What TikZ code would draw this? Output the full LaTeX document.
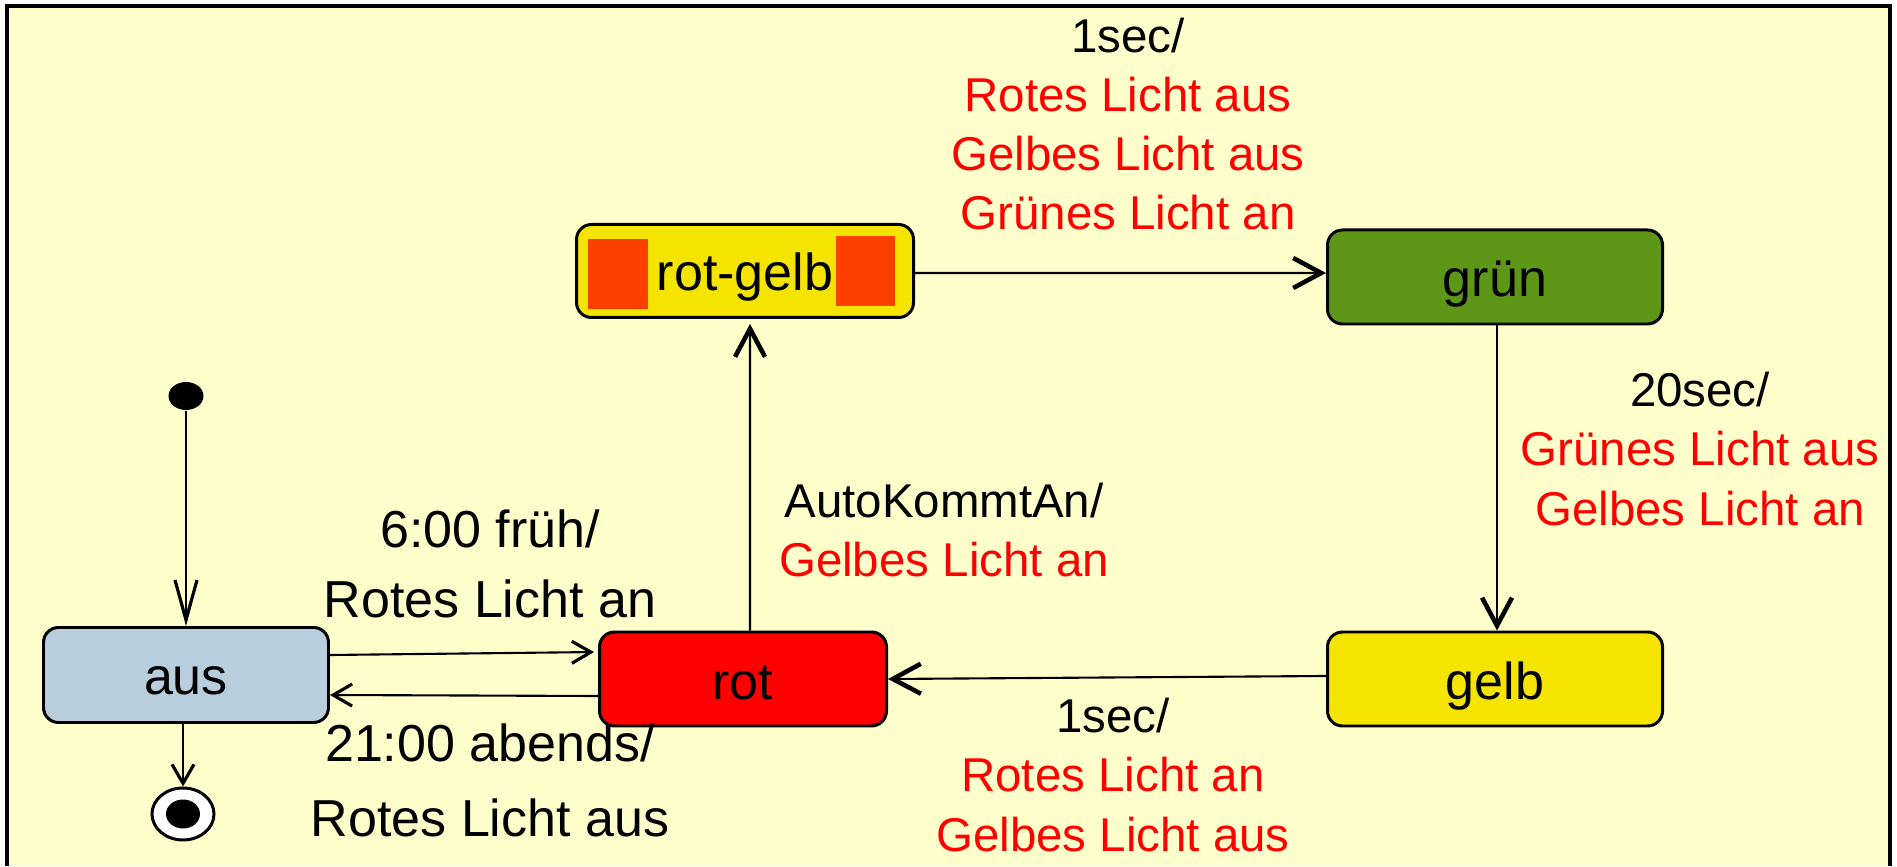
\documentclass[tikz,border=0pt]{standalone}
\usepackage{fontspec}
\setmainfont{Liberation Sans}
\usetikzlibrary{arrows.meta,shapes.geometric}

\definecolor{hgrund}{HTML}{FFFFCC}
\definecolor{ausblau}{HTML}{B8CEDD}
\definecolor{rotfarbe}{HTML}{FF0000}
\definecolor{gelbfarbe}{HTML}{F5E400}
\definecolor{gruenfarbe}{HTML}{5E9618}
\definecolor{orangefarbe}{HTML}{FC4000}

\tikzset{
	zustand/.style={draw, line width=0.85pt, rounded corners=0.15cm, minimum width=2.86cm,
		minimum height=0.94cm, inner sep=0pt, text height=0.40cm, text depth=0pt,
		font=\fontsize{14.8}{17}\selectfont},
	trans/.style={line width=0.6pt},
	grosspfeil/.style={-{Straight Barb[length=0.28cm,width=0.30cm,line width=1.3pt]}},
	kleinpfeil/.style={-{Straight Barb[length=0.19cm,width=0.22cm,line width=0.9pt]}},
	startpfeil/.style={-{Straight Barb[length=0.40cm,width=0.22cm,line width=0.9pt]}},
	lab/.style={align=center, font=\fontsize{13.5}{16.8}\selectfont},
	labgross/.style={align=center, font=\fontsize{14.8}{20}\selectfont},
}

\begin{document}
\begin{tikzpicture}
		\useasboundingbox (0,0) rectangle (18.97,8.66);
		\fill[hgrund] (0.07,0) rectangle (18.90,8.60);
		\draw[line width=1.2pt] (0.07,0)--(0.07,8.60)--(18.90,8.60)--(18.90,0);
		% Zustaende
		\node[zustand, fill=ausblau, minimum width=2.85cm, minimum height=0.95cm] (aus) at (1.86,1.91) {aus};
		\node[zustand, fill=rotfarbe, minimum width=2.87cm] (rot) at (7.43,1.87) {rot};
		\node[zustand, fill=gelbfarbe, minimum width=3.37cm, minimum height=0.93cm] (rotgelb) at (7.45,5.95) {rot-gelb};
		\fill[orangefarbe] (5.88,5.57) rectangle (6.48,6.27);
		\fill[orangefarbe] (8.36,5.60) rectangle (8.95,6.30);
		\node[zustand, fill=gruenfarbe, minimum width=3.35cm] (gruen) at (14.95,5.89) {grün};
		\node[zustand, fill=gelbfarbe, minimum width=3.35cm] (gelb) at (14.95,1.87) {gelb};
		% Start und Ende
		\node[ellipse, fill, minimum width=0.35cm, minimum height=0.28cm, inner sep=0pt] (start) at (1.86,4.70) {};
		\node[ellipse, draw, fill=white, line width=0.85pt, minimum width=0.62cm, minimum height=0.52cm, inner sep=0pt] (ende) at (1.83,0.52) {};
		\fill (ende) ellipse (0.17 and 0.145);
		% Uebergaenge
		\draw[trans, startpfeil] (start) -- (aus);
		\draw[trans, kleinpfeil] (aus.south -| ende) -- (ende.north);
		\draw[trans, kleinpfeil, shorten >=0.04cm] ([yshift=0.20cm]aus.east) -- ([yshift=0.27cm]rot.west);
		\draw[trans, kleinpfeil] ([yshift=-0.17cm]rot.west) -- ([yshift=-0.20cm]aus.east);
		\draw[trans, grosspfeil, shorten >=0.05cm] ([xshift=0.07cm]rot.north) -- ([xshift=0.05cm]rotgelb.south);
		\draw[trans, grosspfeil] ([yshift=-0.02cm]rotgelb.east) -- ([yshift=0.04cm]gruen.west);
		\draw[trans, grosspfeil] ([xshift=0.02cm]gruen.south) -- ([xshift=0.02cm]gelb.north);
		\draw[trans, grosspfeil] ([yshift=0.03cm]gelb.west) -- (rot.east);
		% Beschriftungen
		\node[lab] (lrotgelb) at (11.28,7.42) {1sec/\\\textcolor{rotfarbe}{Rotes Licht aus}\\
			\textcolor{rotfarbe}{Gelbes Licht aus}\\\textcolor{rotfarbe}{Grünes Licht an}};
		\node[lab] (lgruen) at (17.00,4.17) {20sec/\\\textcolor{rotfarbe}{Grünes Licht aus}\\
			\textcolor{rotfarbe}{Gelbes Licht an}};
		\node[lab] (lgelb) at (11.13,0.91) {1sec/\\\textcolor{rotfarbe}{Rotes Licht an}\\
			\textcolor{rotfarbe}{Gelbes Licht aus}};
		\node[lab, font=\fontsize{13.5}{17}\selectfont] (lrot) at (9.44,3.36) {AutoKommtAn/\\\textcolor{rotfarbe}{Gelbes Licht an}};
		\node[labgross] (lein) at (4.90,3.02) {6:00 früh/\\Rotes Licht an};
		\node[labgross, font=\fontsize{14.8}{21.3}\selectfont] (laus) at (4.90,0.86) {21:00 abends/\\Rotes Licht aus};
	\end{tikzpicture}
\end{document}
